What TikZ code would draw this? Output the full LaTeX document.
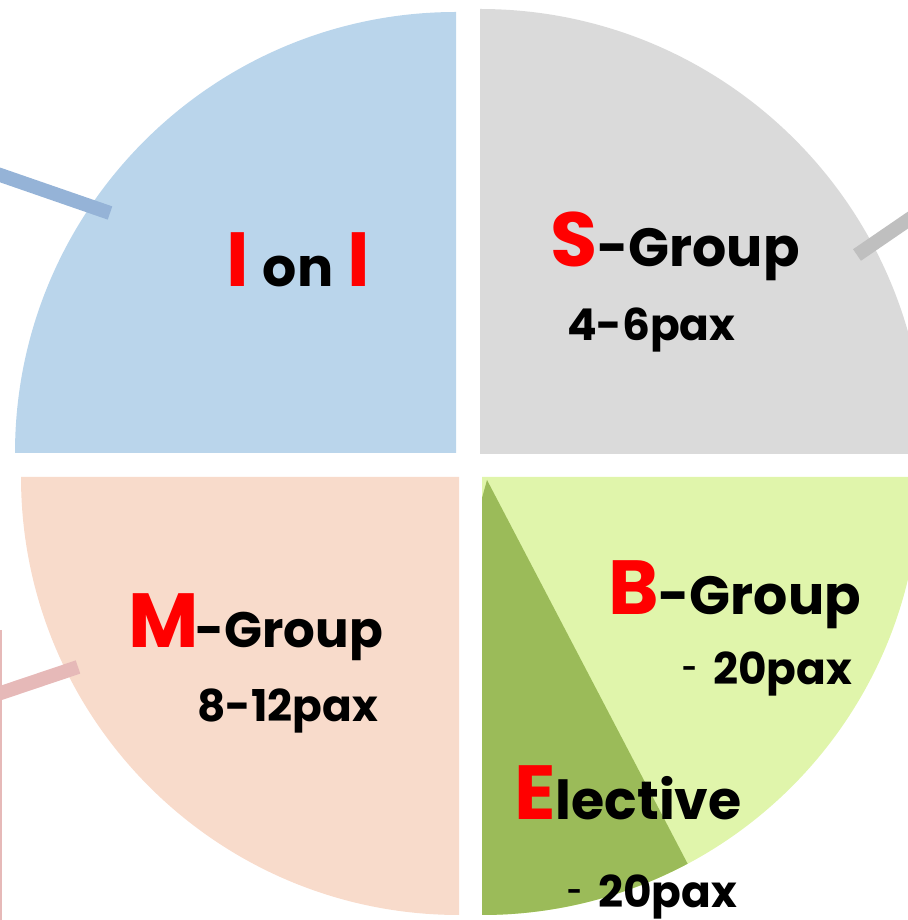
\documentclass[tikz,border=0pt]{standalone}
\usepackage{fontspec}
\setmainfont{Poppins}
\usepackage{xcolor}
\usepackage{tikz}
\usetikzlibrary{positioning}
\definecolor{oneblue}{HTML}{BAD5EB}
\definecolor{onebluedark}{HTML}{95B3D7}
\definecolor{sgray}{HTML}{DADADA}
\definecolor{sgraydark}{HTML}{BFBFBF}
\definecolor{mpeach}{HTML}{F8DBCB}
\definecolor{mpinkdark}{HTML}{E6B9B8}
\definecolor{blight}{HTML}{E0F5AB}
\definecolor{edark}{HTML}{9BBB59}
\definecolor{keyred}{HTML}{FF0000}
\newcommand{\keyletter}[1]{{\color{keyred}\fontsize{77}{77}\selectfont #1}}
\newcommand{\smalldash}{\raisebox{7bp}{\fontsize{26}{26}\selectfont -}}

\begin{document}
\begin{tikzpicture}[
    x=1bp, y=1bp,
    leader/.style={line width=14bp},
    txt/.style={anchor=base west, inner sep=0pt, font=\bfseries\fontsize{54}{54}\selectfont},
    paxtxt/.style={anchor=base west, inner sep=0pt, font=\bfseries\fontsize{44}{44}\selectfont}
]
    \useasboundingbox (0,0) rectangle (908,920);

    % Quarter slices
    \fill[oneblue] (456,467) -- ++(90:441) arc[start angle=90, end angle=180, radius=441] -- cycle;
    \fill[sgray] (480,466) -- ++(0:445) arc[start angle=0, end angle=90, radius=445] -- cycle;
    \fill[mpeach] (459,443) -- ++(180:438) arc[start angle=180, end angle=270, radius=438] -- cycle;
    \fill[blight] (482,443) -- ++(270:438) arc[start angle=270, end angle=360, radius=438] -- cycle;
    \fill[edark] (487,440) -- (482,422) -- (482,5) arc[start angle=270, end angle=298, radius=438] -- cycle;

    % Leader lines
    \coordinate (blueend) at (110,707);
    \coordinate (bluefar) at (-20,752);
    \coordinate (grayend) at (857,665);
    \coordinate (grayfar) at (930,715);
    \coordinate (pinkend) at (78,253);
    \coordinate (pinkfar) at (-20,220);
    \coordinate (railtop) at (1.2,290);
    \coordinate (railbot) at (1.2,-5);
    \draw[leader, onebluedark] (bluefar) -- (blueend);
    \draw[leader, sgraydark] (grayend) -- (grayfar);
    \draw[leader, mpinkdark] (pinkfar) -- (pinkend);
    \draw[line width=2.5bp, mpinkdark] (railtop) -- (railbot);

    % Labels
    \node[txt] (ioni) at (226,633) {\keyletter{I}\hspace{14bp}on\hspace{14bp}\keyletter{I}};
    \node[txt] (sgroup) at (550,653) {\keyletter{S}-Group};
    \node[paxtxt] (spax) at (567,579) {4-6pax};
    \node[txt, font=\bfseries\fontsize{50}{50}\selectfont] (mgroup) at (128,272) {\keyletter{M}\hspace{-3bp}-Group};
    \node[paxtxt] (mpax) at (197,198) {8-12pax};
    \node[txt] (bgroup) at (608,305) {\keyletter{B}-Group};
    \node[paxtxt] (bpax) at (682,235) {\smalldash\hspace{16bp}20pax};
    \node[txt] (elective) at (514,100) {\keyletter{E}lective};
    \node[paxtxt] (epax) at (567,12) {\smalldash\hspace{16bp}20pax};
\end{tikzpicture}
\end{document}
